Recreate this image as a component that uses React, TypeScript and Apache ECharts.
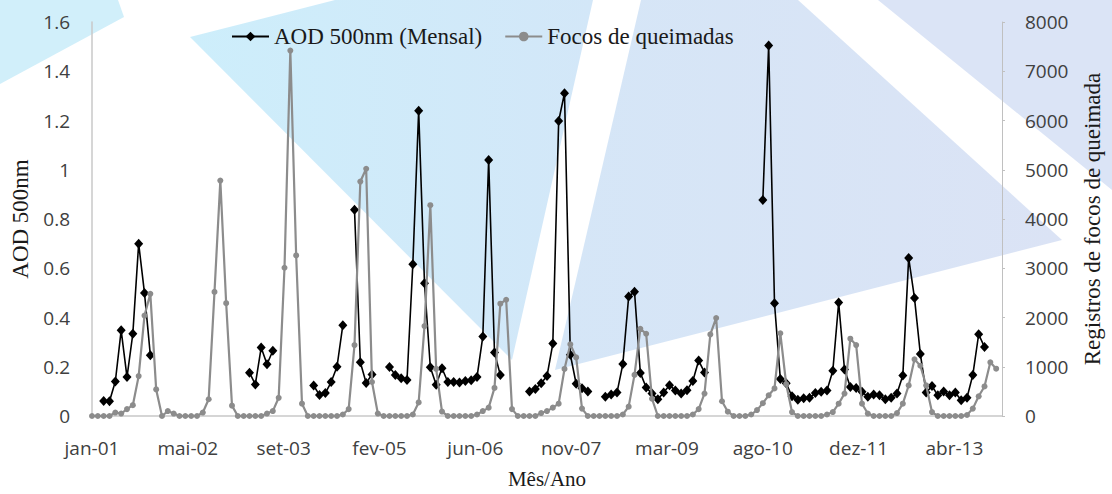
import React, { useEffect, useRef } from "react";
import * as echarts from "echarts";

// Monthly index 0 = jan-2001 ... 155 = dez-2013
const xTickLabels = ["jan-01", "mai-02", "set-03", "fev-05", "jun-06", "nov-07", "mar-09", "ago-10", "dez-11", "abr-13"];
const X_TICK_STEP = 500 / 30.4375; // 500-day major unit, in months
const yLeftTicks = { min: 0, max: 1.6, interval: 0.2 };
const yRightTicks = { min: 0, max: 8000, interval: 1000 };

// AOD 500nm (Mensal) — null where no data
const aod: (number | null)[] = [
  null, null, 0.061, 0.060, 0.140, 0.348, 0.158, 0.334, 0.700, 0.499,
  0.247, null, null, null, null, null, null, null, null, null,
  null, null, null, null, null, null, null, 0.176, 0.128, 0.278,
  0.210, 0.265, null, null, null, null, null, null, 0.124, 0.085,
  0.093, 0.138, 0.200, 0.369, null, 0.838, 0.218, 0.134, 0.169, null,
  null, 0.199, 0.166, 0.153, 0.146, 0.616, 1.240, 0.539, 0.198, 0.127,
  0.194, 0.138, 0.138, 0.136, 0.142, 0.145, 0.158, 0.323, 1.040, 0.258,
  0.166, null, null, null, null, 0.100, 0.110, 0.133, 0.162, 0.294,
  1.198, 1.311, 0.249, 0.131, 0.113, 0.100, null, null, 0.078, 0.087,
  0.095, 0.211, 0.485, 0.505, 0.175, 0.116, 0.091, 0.068, 0.095, 0.125,
  0.104, 0.091, 0.105, 0.142, 0.225, 0.177, null, null, null, null,
  null, null, null, null, null, 0.877, 1.505, 0.458, 0.150, 0.133,
  0.080, 0.066, 0.072, 0.074, 0.093, 0.098, 0.104, 0.184, 0.461, 0.189,
  0.118, 0.114, 0.098, 0.078, 0.087, 0.084, 0.068, 0.074, 0.091, 0.164,
  0.642, 0.479, 0.252, 0.095, 0.122, 0.084, 0.100, 0.084, 0.095, 0.064,
  0.074, 0.167, 0.332, 0.280, null, null,
];

// Focos de queimadas (registros por mês)
const focos: number[] = [
  0, 0, 0, 0, 70, 50, 140, 220, 810, 2040,
  2480, 540, 0, 100, 50, 0, 0, 0, 0, 70,
  340, 2520, 4780, 2290, 210, 0, 0, 0, 0, 0,
  50, 100, 370, 3010, 7420, 3260, 250, 0, 0, 0,
  0, 0, 0, 30, 140, 1440, 4760, 5020, 690, 50,
  0, 0, 0, 0, 0, 30, 275, 1825, 4280, 955,
  90, 0, 0, 0, 0, 0, 30, 100, 170, 570,
  2280, 2360, 140, 0, 0, 0, 0, 60, 100, 170,
  250, 955, 1457, 1190, 150, 0, 0, 0, 0, 0,
  0, 30, 190, 835, 1770, 1670, 350, 0, 0, 0,
  0, 0, 0, 30, 140, 455, 1657, 1990, 300, 87,
  0, 0, 0, 30, 120, 260, 420, 560, 1680, 650,
  80, 0, 0, 0, 0, 0, 30, 80, 250, 455,
  1570, 1440, 250, 50, 0, 0, 0, 0, 60, 250,
  620, 1150, 1020, 620, 80, 0, 0, 0, 0, 0,
  20, 150, 400, 600, 1090, 960,
];

const serif = "'Liberation Serif', 'Times New Roman', serif";
const sans = "'Open Sans', 'Noto Sans', sans-serif";

export default function App() {
  const ref = useRef<HTMLDivElement>(null);

  useEffect(() => {
    if (!ref.current) return;
    const chart = echarts.init(ref.current, undefined, { renderer: "svg" });

    const aodData = aod.map((v, i) => [i, v === null ? "-" : v]);
    const focosData = focos.map((v, i) => [i, v]);

    const bg = (points: number[][], fill: any) => ({
      type: "polygon",
      silent: true,
      z: -10,
      shape: { points },
      style: { fill },
    });

    chart.setOption({
      animation: false,
      backgroundColor: "#ffffff",
      graphic: [
        bg([[0, 0], [118, 0], [124, 17], [0, 84]], "#d1effa"),
        bg([[190, 37], [335, 0], [593, 0], [512, 360]], {
          type: "linear", x: 0, y: 0, x2: 1, y2: 0,
          colorStops: [
            { offset: 0, color: "#cdeefb" },
            { offset: 1, color: "#d3e7f8" },
          ],
        }),
        bg([[641, 0], [798, 0], [1062, 240], [555, 370]], {
          type: "linear", x: 0, y: 0, x2: 1, y2: 0,
          colorStops: [
            { offset: 0, color: "#d5e6f7" },
            { offset: 1, color: "#dbe3f5" },
          ],
        }),
        bg([[878, 0], [1112, 0], [1112, 190]], "#dbe4f6"),
      ],
      legend: {
        left: 226,
        top: 20,
        itemWidth: 37,
        itemHeight: 12,
        itemGap: 22,
        textStyle: { fontFamily: serif, fontSize: 23, color: "#1a1a1a" },
        data: ["AOD 500nm (Mensal)", "Focos de queimadas"],
      },
      grid: { left: 92, right: 107, top: 22, bottom: 73, containLabel: false },
      xAxis: {
        type: "value",
        min: 0,
        max: 156,
        interval: X_TICK_STEP,
        name: "Mês/Ano",
        nameLocation: "middle",
        nameGap: 52,
        nameTextStyle: { fontFamily: serif, fontSize: 21, color: "#1a1a1a" },
        axisLine: { show: true, lineStyle: { color: "#c8c8c8", width: 1.5 } },
        axisTick: { show: false },
        splitLine: { show: false },
        axisLabel: {
          margin: 22,
          fontFamily: sans,
          fontSize: 19,
          color: "#404040",
          showMaxLabel: false,
          formatter: (v: number) => {
            const k = Math.round(v / X_TICK_STEP);
            if (Math.abs(v / X_TICK_STEP - k) > 0.01) return "";
            return xTickLabels[k] ?? "";
          },
        },
      },
      yAxis: [
        {
          type: "value",
          position: "left",
          min: yLeftTicks.min,
          max: yLeftTicks.max,
          interval: yLeftTicks.interval,
          name: "AOD 500nm",
          nameLocation: "middle",
          nameRotate: 90,
          nameGap: 58,
          nameTextStyle: { fontFamily: serif, fontSize: 23, color: "#1a1a1a" },
          axisLine: { show: true, lineStyle: { color: "#c8c8c8", width: 1.5 } },
          axisTick: { show: false },
          splitLine: { show: false },
          axisLabel: { margin: 22, fontFamily: sans, fontSize: 19, color: "#404040" },
        },
        {
          type: "value",
          position: "right",
          min: yRightTicks.min,
          max: yRightTicks.max,
          interval: yRightTicks.interval,
          name: "Registros de focos de queimada",
          nameLocation: "middle",
          nameRotate: 90,
          nameGap: 79,
          nameTextStyle: { fontFamily: serif, fontSize: 23, color: "#1a1a1a" },
          axisLine: { show: true, lineStyle: { color: "#c0c0c0", width: 1 } },
          axisTick: { show: true, length: 3, lineStyle: { color: "#c0c0c0" } },
          splitLine: { show: false },
          axisLabel: {
            margin: 23,
            fontFamily: sans,
            fontSize: 19,
            color: "#404040",
            formatter: (v: number) => String(v),
          },
        },
      ],
      series: [
        {
          name: "AOD 500nm (Mensal)",
          type: "line",
          yAxisIndex: 0,
          data: aodData,
          connectNulls: false,
          symbol: "diamond",
          symbolSize: [9, 10],
          showSymbol: true,
          showAllSymbol: true,
          lineStyle: { color: "#000000", width: 1.6 },
          itemStyle: { color: "#000000" },
          z: 3,
        },
        {
          name: "Focos de queimadas",
          type: "line",
          yAxisIndex: 1,
          data: focosData,
          symbol: "circle",
          symbolSize: 6,
          showSymbol: true,
          showAllSymbol: true,
          lineStyle: { color: "#8c8c8c", width: 2.2 },
          itemStyle: { color: "#8c8c8c" },
          z: 4,
        },
      ],
    });

    return () => chart.dispose();
  }, []);

  return (
    <div
      ref={ref}
      style={{ position: "absolute", left: 0, top: 0, width: 1112, height: 494 }}
    />
  );
}
